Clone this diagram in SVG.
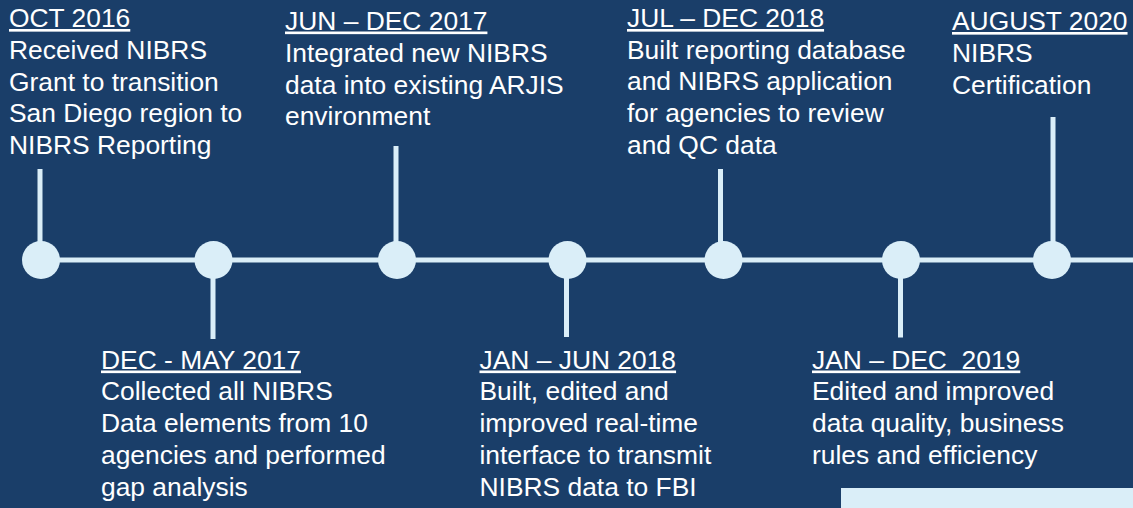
<svg xmlns="http://www.w3.org/2000/svg" width="1133" height="508" viewBox="0 0 1133 508">
<style>
.bg{fill:#1a3e69}
.ln{stroke:#daeef8;stroke-width:5;fill:none}
.dot{fill:#daeef8}
text{font-family:"Liberation Sans",Arial,sans-serif;font-size:26.4px;fill:#ffffff;white-space:pre}
.hd{text-decoration:underline}
</style>
<rect class="bg" x="0" y="0" width="1133" height="508"/>
<g id="connectors">
<line class="ln" x1="40" y1="260" x2="1133" y2="260"/>
<line class="ln" x1="40" y1="169" x2="40" y2="260"/>
<line class="ln" x1="213" y1="260" x2="213" y2="339"/>
<line class="ln" x1="396" y1="146" x2="396" y2="260"/>
<line class="ln" x1="566.5" y1="260" x2="566.5" y2="337"/>
<line class="ln" x1="720.5" y1="169" x2="720.5" y2="260"/>
<line class="ln" x1="900.5" y1="260" x2="900.5" y2="337.5"/>
<line class="ln" x1="1053" y1="117" x2="1053" y2="260"/>
</g>
<g id="n1">
<circle class="dot" cx="41" cy="260" r="19"/>
<text x="9" y="27" class="hd">OCT 2016</text>
<text x="9" y="58.5">Received NIBRS</text>
<text x="9" y="90.5">Grant to transition</text>
<text x="9" y="122">San Diego region to</text>
<text x="9" y="154">NIBRS Reporting</text>
</g>
<g id="n2">
<circle class="dot" cx="213.5" cy="260" r="19"/>
<text x="101" y="368.5" class="hd">DEC - MAY 2017</text>
<text x="101" y="400">Collected all NIBRS</text>
<text x="101" y="432">Data elements from 10</text>
<text x="101" y="464">agencies and performed</text>
<text x="101" y="496">gap analysis</text>
</g>
<g id="n3">
<circle class="dot" cx="397" cy="260" r="19"/>
<text x="285" y="29.5" class="hd">JUN – DEC 2017</text>
<text x="285" y="61.5">Integrated new NIBRS</text>
<text x="285" y="93.5">data into existing ARJIS</text>
<text x="285" y="125">environment</text>
</g>
<g id="n4">
<circle class="dot" cx="567.5" cy="260" r="19"/>
<text x="479.5" y="368.5" class="hd">JAN – JUN 2018</text>
<text x="479.5" y="400">Built, edited and</text>
<text x="479.5" y="432">improved real-time</text>
<text x="479.5" y="464">interface to transmit</text>
<text x="479.5" y="496">NIBRS data to FBI</text>
</g>
<g id="n5">
<circle class="dot" cx="723.5" cy="260" r="19"/>
<text x="627" y="27" class="hd">JUL – DEC 2018</text>
<text x="627" y="58.5">Built reporting database</text>
<text x="627" y="90">and NIBRS application</text>
<text x="627" y="122">for agencies to review</text>
<text x="627" y="153.5">and QC data</text>
</g>
<g id="n6">
<circle class="dot" cx="901" cy="260" r="19"/>
<text x="812" y="368.5" class="hd">JAN – DEC  2019</text>
<text x="812" y="400">Edited and improved</text>
<text x="812" y="432">data quality, business</text>
<text x="812" y="463.5">rules and efficiency</text>
</g>
<g id="n7">
<circle class="dot" cx="1052" cy="260" r="19"/>
<text x="952" y="30" class="hd">AUGUST 2020</text>
<text x="952" y="62">NIBRS</text>
<text x="952" y="93.5">Certification</text>
</g>
<rect x="841" y="488" width="292" height="20" fill="#daeef8"/>
</svg>
